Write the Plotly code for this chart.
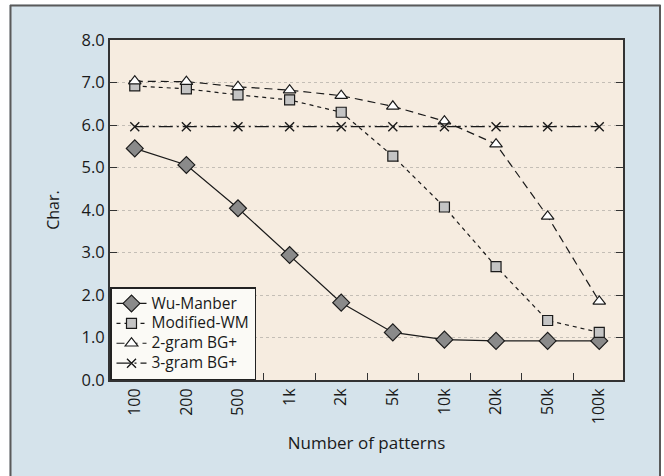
import plotly.graph_objects as go

# Number of patterns (categorical x axis)
patterns = ["100", "200", "500", "1k", "2k", "5k", "10k", "20k", "50k", "100k"]

# Average shift distance in characters for each algorithm
wu_manber = [5.45, 5.06, 4.04, 2.94, 1.82, 1.12, 0.95, 0.92, 0.92, 0.92]
modified_wm = [6.92, 6.85, 6.71, 6.59, 6.30, 5.27, 4.07, 2.67, 1.40, 1.12]
bg2_plus = [7.03, 7.02, 6.90, 6.82, 6.69, 6.44, 6.09, 5.55, 3.85, 1.85]
bg3_plus = [5.96, 5.96, 5.96, 5.96, 5.96, 5.96, 5.96, 5.96, 5.96, 5.96]

series_names = ["Wu-Manber", "Modified-WM", "2-gram BG+", "3-gram BG+"]

FONT = "Open Sans"
INK = "#1a1a1a"
W, H = 664, 476
L, R, T, B = 110, 41, 40, 96
PW, PH = W - L - R, H - T - B


def xp(px):
    return (px - L) / PW


def yp(py):
    return (H - B - py) / PH


def legend_label(text):
    # larger label text on a compact legend row
    return f'<span style="font-size:15.5px">{text}</span>'


fig = go.Figure()

fig.add_trace(go.Scatter(
    x=patterns, y=wu_manber, name=legend_label(series_names[0]), mode="lines+markers",
    line=dict(color=INK, width=1.2),
    marker=dict(symbol="diamond", size=13, color="#8a8a8a",
                line=dict(color=INK, width=1.2)),
))
fig.add_trace(go.Scatter(
    x=patterns, y=modified_wm, name=legend_label(series_names[1]), mode="lines+markers",
    line=dict(color=INK, width=1.2, dash="4px,4px"),
    marker=dict(symbol="square", size=10, color="#c4c4c4",
                line=dict(color=INK, width=1.2)),
))
fig.add_trace(go.Scatter(
    x=patterns, y=bg2_plus, name=legend_label(series_names[2]), mode="lines+markers",
    line=dict(color=INK, width=1.2, dash="8px,5px"),
    marker=dict(symbol="triangle-up", size=11, color="#ffffff",
                line=dict(color=INK, width=1.2)),
))
fig.add_trace(go.Scatter(
    x=patterns, y=bg3_plus, name=legend_label(series_names[3]), mode="lines+markers",
    line=dict(color=INK, width=1.2, dash="14px,4px,2px,4px"),
    marker=dict(symbol="x-thin", size=9, color=INK,
                line=dict(color=INK, width=1.4)),
))

# Panel frame: white page edge with a grey rule around the blue panel
shapes = [
    dict(type="rect", xref="paper", yref="paper", x0=xp(0), x1=xp(9.5),
         y0=yp(H), y1=yp(0), fillcolor="white", line=dict(width=0)),
    dict(type="rect", xref="paper", yref="paper", x0=xp(0), x1=xp(W),
         y0=yp(4.5), y1=yp(0), fillcolor="white", line=dict(width=0)),
    dict(type="rect", xref="paper", yref="paper", x0=xp(661), x1=xp(W),
         y0=yp(H), y1=yp(0), fillcolor="white", line=dict(width=0)),
    dict(type="line", xref="paper", yref="paper", x0=xp(10.5), x1=xp(10.5),
         y0=yp(H), y1=yp(5), line=dict(color="#5a5a5a", width=2)),
    dict(type="line", xref="paper", yref="paper", x0=xp(10), x1=xp(660.5),
         y0=yp(5.5), y1=yp(5.5), line=dict(color="#5a5a5a", width=2)),
    dict(type="line", xref="paper", yref="paper", x0=xp(660), x1=xp(660),
         y0=yp(H), y1=yp(5), line=dict(color="#5a5a5a", width=2)),
]

fig.update_layout(
    width=W, height=H, autosize=False,
    margin=dict(l=L, r=R, t=T, b=B),
    paper_bgcolor="#d5e3eb",
    plot_bgcolor="#f6ece0",
    font=dict(family=FONT, size=15, color=INK),
    shapes=shapes,
    showlegend=True,
    legend=dict(
        x=0, y=0, xanchor="left", yanchor="bottom",
        bgcolor="#fbfaf6", bordercolor="#222222", borderwidth=1.5,
        font=dict(family=FONT, size=13, color=INK),
        itemwidth=30, tracegroupgap=0,
    ),
)

fig.update_xaxes(
    type="category", range=[-0.48, 9.46],
    showline=True, linecolor="#333333", linewidth=2, mirror=True,
    ticks="inside", tickson="boundaries", ticklen=7, tickcolor="#333333",
    tickangle=-90, tickfont=dict(family=FONT, size=16, color=INK),
    showgrid=False, zeroline=False,
    title=dict(text="Number of patterns", font=dict(family=FONT, size=17, color=INK),
               standoff=14),
)
fig.update_yaxes(
    range=[0, 8], dtick=1, tick0=0, tickformat=".1f",
    showline=True, linecolor="#333333", linewidth=2, mirror="ticks",
    ticks="inside", ticklen=7, tickcolor="#333333",
    tickfont=dict(family=FONT, size=16.5, color=INK),
    showgrid=True, gridcolor="#c4beb6", gridwidth=1, griddash="dot",
    zeroline=False,
    title=dict(text="Char.", font=dict(family=FONT, size=16, color=INK), standoff=18),
)

fig.write_html("out.html")
